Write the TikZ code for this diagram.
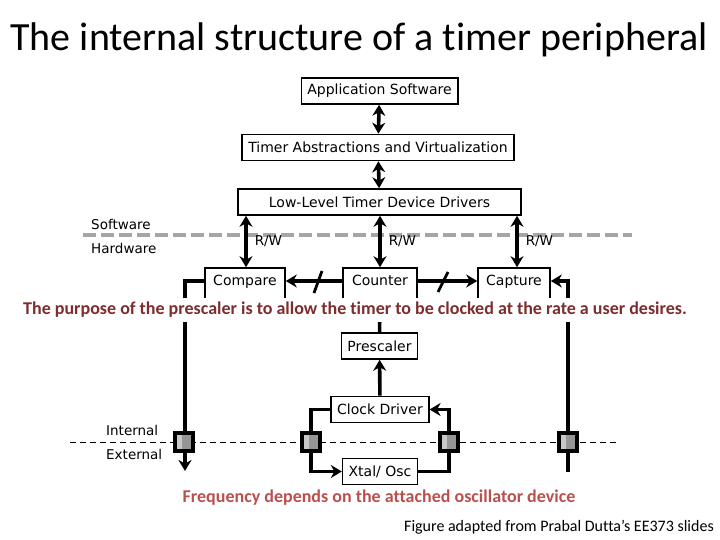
\documentclass[tikz,border=0pt]{standalone}
\usepackage{fontspec}
\setmainfont{Carlito}[Ligatures=NoCommon]
\newfontfamily\boxfont{DejaVu Sans}
\usetikzlibrary{arrows.meta, positioning, backgrounds}
\definecolor{purposered}{RGB}{125,45,45}
\definecolor{freqred}{RGB}{185,80,78}
\definecolor{splitgray}{RGB}{165,165,165}
\definecolor{padgray}{RGB}{150,150,150}
\definecolor{padlight}{RGB}{200,200,200}

\begin{document}
\begin{tikzpicture}[x=1pt, y=-1pt, >=Stealth,
      box/.style={draw, line width=1.6pt, fill=white, font=\boxfont\fontsize{14}{16}\selectfont,
                  inner xsep=6pt, minimum height=26pt},
      unit/.style={box, minimum height=0pt, inner ysep=3pt, text height=14pt, text depth=15pt},
      pad/.style={draw, line width=3.8pt, fill=padgray, minimum size=18pt, inner sep=0pt,
                  path picture={\fill[padlight] (path picture bounding box.north west)
                                rectangle ([xshift=-2pt]path picture bounding box.south);}},
      lbl/.style={font=\boxfont\fontsize{13.5}{15}\selectfont, inner sep=0pt},
      conn/.style={line width=3.6pt},
      arr/.style={conn, -{Stealth[length=11pt, width=13pt]}},
      dbl/.style={conn, {Stealth[length=11pt, width=13pt]}-{Stealth[length=11pt, width=13pt]}},
      note/.style={font=\bfseries\fontsize{18}{21}\selectfont, inner sep=0pt}]
    \useasboundingbox (0,0) rectangle (720,540);
    \node[font=\fontsize{40}{46}\selectfont, inner sep=0pt] (title) at (359,40) {The internal structure of a timer peripheral};
    % software stack
    \node[box] (app)  at (379.5,91)  {Application Software};
    \node[box] (abs)  at (378,147.5) {Timer Abstractions and Virtualization};
    \node[box, minimum width=283pt] (drv) at (379.5,202) {Low-Level Timer Device Drivers};
    \coordinate (sw) at (83,235);
    \coordinate (se) at (632,235);
    \node[lbl, anchor=west] (software) at (91,224) {Software};
    \node[lbl, anchor=west] (hardware) at (91,248) {Hardware};
    % timer units
    \node[unit, minimum width=80pt] (cmp) at (245,285.5) {Compare};
    \node[unit, minimum width=74pt] (cnt) at (380,285.5) {Counter};
    \node[unit, minimum width=72pt] (cap) at (514,285.5) {Capture};
    \coordinate (cmpin)  at (185,281);
    \coordinate (capin)  at (568,281);
    \coordinate (cmpout) at (185,471);
    \coordinate (capext) at (568,472);
    \coordinate (slash1) at (318,282);
    \coordinate (slash2) at (443,282);
    % clock path
    \node[box] (presc) at (379.5,346) {Prescaler};
    \node[box] (clk)   at (380,409.5) {Clock Driver};
    \node[box] (xtal)  at (380,471.5) {Xtal/ Osc};
    \coordinate (iw) at (70,442);
    \coordinate (ie) at (617,442);
    \node[lbl, anchor=west] (internal) at (106,430) {Internal};
    \node[lbl, anchor=west] (external) at (106,454) {External};
    \node[pad] (padcmp) at (184,442) {};
    \node[pad] (padl)   at (311,442) {};
    \node[pad] (padr)   at (449,442) {};
    \node[pad] (padcap) at (568,442) {};
    % arrows
    \begin{scope}[on background layer]
      \draw[splitgray, line width=4pt, dash pattern=on 13pt off 5pt] (sw) -- (se);
      \draw[line width=1pt, dash pattern=on 6pt off 4pt] (iw) -- (ie);
      \draw[dbl] (app) -- (abs);
      \draw[dbl] (abs) -- (drv);
      \draw[dbl] (drv.south -| 246,0) -- node[lbl, right=7pt]{R/W} (cmp.north -| 246,0);
      \draw[dbl] (drv.south -| cnt.north) -- node[lbl, right=7pt]{R/W} (cnt.north);
      \draw[dbl] (drv.south -| 517,0) -- node[lbl, right=7pt]{R/W} (cap.north -| 517,0);
      \draw[arr] (cnt.west |- cmpin) -- (cmp.east |- cmpin);
      \draw[arr] (cnt.east |- cmpin) -- (cap.west |- cmpin);
      \draw[line width=2.8pt] (slash1) ++(-4,11) -- ++(8,-22);
      \draw[line width=2.8pt] (slash2) ++(-5,10) -- ++(10,-20);
      \draw[arr] (cmp.west |- cmpin) -| (cmpout);
      \draw[arr] (capext) |- (cap.east |- capin);
      \draw[conn] (presc) -- (cnt);
      \draw[arr] (clk) -- (presc);
      \draw[arr] (clk.west) -| (padl.center) |- (xtal.west);
      \draw[arr] (xtal.east) -| (padr.center) |- (clk.east);
    \end{scope}
    % notes
    \node[note, purposered, fill=white, minimum height=24pt, inner xsep=2pt] (purpose) at (355,310)
      {The purpose of the prescaler is to allow the timer to be clocked at the rate a user desires.};
    \node[note, freqred] (freq) at (379,498) {Frequency depends on the attached oscillator device};
    \node[font=\fontsize{16}{19}\selectfont, inner sep=0pt, anchor=east] (credit) at (714,527)
      {Figure adapted from Prabal Dutta’s EE373 slides};
  \end{tikzpicture}
\end{document}
